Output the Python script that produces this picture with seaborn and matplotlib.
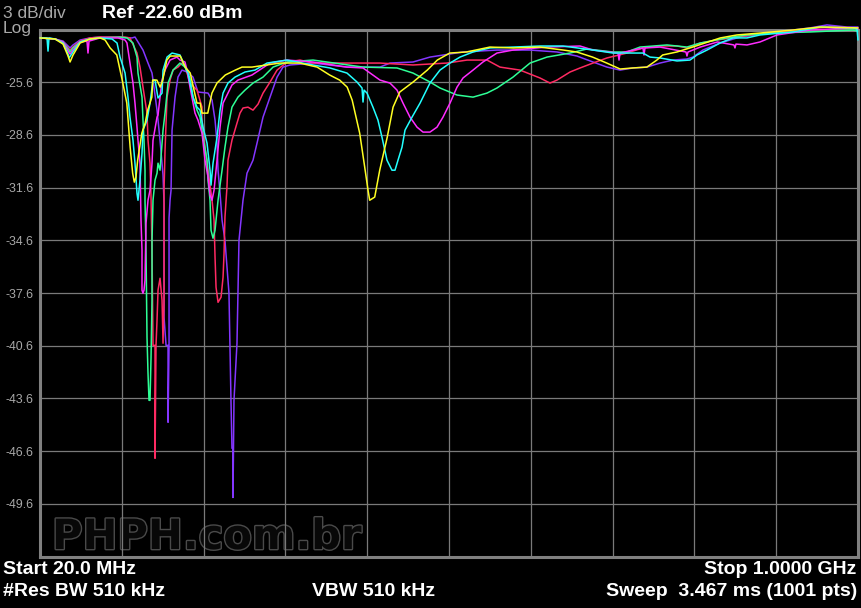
import pandas as pd
import matplotlib
matplotlib.use("Agg")
import matplotlib.pyplot as plt
import matplotlib.patheffects as pe
import seaborn as sns

# analyzer settings
start_mhz = 20.0
stop_mhz = 1000.0
ref_dbm = -22.6
db_per_div = 3.0

# traces (MHz, dBm)
yellow_mhz = [20, 38, 47.6, 53.6, 56, 59.6, 68, 80, 92, 98,
              104, 112, 119, 124, 128, 131, 133, 135, 137, 142,
              146, 149, 154, 155, 160, 164, 167, 172, 176, 188,
              194, 200, 208, 212, 214, 221, 226, 232, 242, 254,
              262, 274, 307.5, 331, 352, 367, 379, 388, 394, 403,
              409, 413, 415, 421, 427, 436, 443, 451, 467, 484,
              496, 511, 531, 559, 587, 619, 647, 663, 682, 699,
              715, 730, 747, 759, 766, 783, 802, 835, 855, 883,
              922, 954, 1000]
yellow_dbm = [-23.08, -23.14, -23.43, -24.11, -24.45, -24.05, -23.37, -23.14, -23.08, -23.2,
              -23.65, -24.05, -25.59, -26.79, -29.3, -30.78, -31.29, -31.0, -30.04, -28.5,
              -27.93, -27.19, -26.45, -25.48, -25.48, -25.88, -25.48, -24.34, -24.11, -24.11,
              -24.74, -25.08, -26.79, -26.79, -27.36, -27.36, -26.22, -25.65, -25.19, -24.91,
              -24.74, -24.74, -24.51, -24.51, -24.74, -25.19, -25.48, -25.88, -26.62, -28.5,
              -30.43, -31.75, -32.32, -32.14, -30.61, -28.73, -27.02, -26.16, -25.59, -24.91,
              -24.34, -23.94, -23.88, -23.6, -23.65, -23.6, -23.77, -23.88, -24.17, -24.51,
              -24.85, -24.79, -24.74, -24.34, -24.05, -23.88, -23.6, -23.08, -22.91, -22.8,
              -22.63, -22.46, -22.51]

cyan_mhz = [20, 28.4, 29.6, 30.8, 38, 47.6, 53.6, 54.8, 59.6, 68,
            80, 92, 106.3, 112.3, 115.9, 121.9, 125.4, 127.8, 131.4, 133.8,
            136.2, 137.4, 139.8, 142.2, 143.4, 148.2, 151.8, 155.4, 157.8, 161.4,
            166.2, 167.4, 172.2, 178.2, 187.7, 191.3, 197.3, 203.3, 208.1, 211.7,
            215.3, 220.1, 223.7, 224.9, 227.3, 232.1, 235.7, 239.3, 245.2, 253.6,
            265.6, 277.6, 292, 315.9, 347.1, 367.4, 387.8, 399.8, 405.8, 407,
            408.2, 411.8, 418.9, 424.9, 429.7, 435.7, 441.7, 445.3, 448.9, 453.7,
            457.3, 465.7, 475.3, 487.2, 499.2, 511.2, 523.2, 538.8, 559, 586.7,
            619, 646.6, 682.5, 706.5, 742.4, 750.8, 762.8, 783.1, 798.7, 807.1,
            819.1, 834.7, 850.2, 867, 882.6, 922, 954.5, 994, 998.8, 1000]
cyan_dbm = [-23.08, -23.08, -23.83, -23.08, -23.14, -23.37, -24.0, -24.22, -23.88, -23.31,
            -23.14, -23.08, -23.14, -23.37, -24.17, -25.08, -26.45, -27.59, -28.9, -30.21,
            -31.92, -32.32, -31.18, -29.64, -28.33, -27.76, -26.79, -25.48, -25.48, -26.5,
            -26.22, -24.91, -24.17, -23.94, -24.05, -24.45, -25.08, -26.45, -27.02, -27.19,
            -28.16, -29.07, -30.61, -31.46, -30.21, -28.73, -27.19, -26.22, -25.65, -25.31,
            -25.02, -24.91, -24.51, -24.34, -24.62, -24.79, -25.08, -25.59, -25.93, -26.73,
            -26.05, -26.22, -27.02, -27.76, -28.73, -30.04, -30.61, -30.61, -30.04, -29.3,
            -28.33, -27.59, -26.79, -25.65, -24.91, -24.51, -24.17, -23.88, -23.65, -23.6,
            -23.54, -23.54, -23.77, -23.94, -23.94, -24.17, -24.22, -24.39, -24.34, -24.05,
            -23.77, -23.37, -23.08, -23.08, -22.91, -22.74, -22.46, -22.51, -22.57, -23.2]

magenta_mhz = [20, 38, 47.6, 53.6, 56, 59.6, 68, 76.3, 77.5, 78.7,
               92, 113.5, 121.9, 124.2, 127.8, 131.4, 133.8, 136.2, 137.4, 139.8,
               141, 142.2, 142.2, 143.4, 144.6, 145.8, 147, 149.4, 151.8, 154.2,
               155.4, 160.2, 161.4, 163.8, 166.2, 169.8, 175.8, 184.1, 187.7, 193.7,
               196.1, 199.7, 205.7, 209.3, 214.1, 217.7, 221.3, 223.7, 226.1, 228.5,
               232.1, 235.7, 239.3, 245.2, 250, 257.2, 274, 295.6, 315.9, 347.1,
               387.8, 407, 427.3, 439.3, 447.7, 454.9, 463.3, 471.7, 478.9, 487.2,
               495.6, 502.8, 511.2, 519.6, 526.8, 538.8, 550.7, 567.5, 586.7, 627.4,
               667, 682.5, 712.5, 713.7, 714.9, 742.4, 743.6, 744.8, 762.8, 793.9,
               795.1, 796.3, 811.1, 831.5, 851.4, 852.6, 853.8, 867, 882.6, 903,
               942.5, 994, 1000]
magenta_dbm = [-23.08, -23.14, -23.31, -23.83, -24.0, -23.77, -23.31, -23.26, -23.94, -23.26,
               -23.08, -23.08, -23.2, -23.37, -24.51, -25.65, -26.79, -28.16, -28.9, -30.21,
               -33.45, -35.16, -37.44, -37.61, -37.44, -36.87, -33.63, -32.32, -31.75, -30.21,
               -28.9, -27.59, -27.47, -26.45, -25.48, -24.91, -24.34, -24.17, -24.34, -24.45,
               -24.91, -25.88, -27.36, -27.76, -28.5, -30.04, -31.0, -32.03, -32.32, -31.75,
               -30.04, -28.16, -26.79, -26.22, -25.76, -25.48, -25.19, -24.51, -24.34, -24.45,
               -24.74, -24.79, -25.48, -25.65, -26.05, -26.79, -27.59, -28.16, -28.44, -28.44,
               -28.16, -27.59, -26.79, -25.88, -25.36, -24.91, -24.45, -23.94, -23.77, -23.6,
               -23.54, -23.77, -23.94, -24.34, -23.94, -23.65, -24.05, -23.65, -23.6, -23.88,
               -24.11, -23.88, -23.6, -23.31, -23.48, -23.65, -23.43, -23.48, -23.31, -22.91,
               -22.63, -22.51, -22.57]

green_mhz = [20, 38, 47.6, 53.6, 56, 59.6, 68, 80, 92, 115.9,
             124.2, 131.4, 136.2, 137.4, 142.2, 143.4, 144.6, 145.8, 145.8, 147,
             148.2, 149.4, 150.6, 151.8, 153, 154.2, 154.2, 155.4, 157.8, 160.2,
             161.4, 163.8, 167.4, 169.8, 173.4, 179.4, 187.7, 193.7, 199.7, 203.3,
             208.1, 211.7, 215.3, 220.1, 221.3, 223.7, 224.9, 227.3, 229.7, 232.1,
             233.3, 238.1, 241.6, 245.2, 250, 257.2, 265.6, 275.2, 287.2, 299.2,
             315.9, 347.1, 407, 447.7, 466.9, 487.2, 499.2, 519.6, 538.8, 555.5,
             567.5, 586.7, 607.1, 627.4, 655, 675.3, 706.5, 723.2, 738.8, 771.2,
             795.1, 811.1, 843.1, 867, 898.2, 942.5, 994, 1000]
green_dbm = [-23.08, -23.14, -23.31, -23.71, -23.88, -23.65, -23.31, -23.14, -23.08, -23.03,
             -23.08, -23.37, -24.17, -25.08, -26.45, -27.76, -28.9, -30.61, -32.32, -35.16,
             -40.12, -42.17, -43.71, -43.71, -41.32, -38.01, -34.6, -32.32, -31.18, -30.78,
             -30.21, -30.61, -28.33, -27.36, -25.65, -24.91, -24.51, -24.74, -25.36, -26.45,
             -27.19, -27.59, -28.73, -30.04, -31.18, -32.32, -34.03, -34.48, -34.03, -32.88,
             -32.32, -30.61, -29.3, -28.16, -27.02, -26.45, -26.05, -25.65, -25.31, -24.74,
             -24.45, -24.34, -24.74, -24.79, -25.08, -25.59, -25.93, -26.33, -26.45, -26.22,
             -25.93, -25.31, -24.51, -24.17, -23.94, -23.71, -23.88, -23.88, -23.6, -23.48,
             -23.6, -23.37, -23.08, -22.91, -22.8, -22.74, -22.63, -22.69]

red_mhz = [20, 38, 47.6, 53.6, 56, 59.6, 68, 80, 92, 121.9,
           127.8, 136.2, 139.8, 143.4, 148.2, 149.4, 151.8, 153, 154.2, 155.4,
           157.8, 157.8, 159, 160.2, 161.4, 163.8, 166.2, 167.4, 168.6, 168.6,
           169.8, 172.2, 175.8, 179.4, 185.3, 190.1, 193.7, 199.7, 208.1, 214.1,
           214.1, 217.7, 221.3, 226.1, 228.5, 229.7, 230.9, 233.3, 236.9, 239.3,
           240.5, 241.6, 244, 245.2, 250, 256, 259.6, 263.2, 269.2, 275.2,
           281.2, 287.2, 295.6, 304, 315.9, 331.5, 347.1, 399.8, 427.3, 466.9,
           507.6, 531.6, 555.5, 571.1, 595, 619, 631, 639.4, 655, 667,
           682.5, 699.3, 723.2, 742.4, 762.8, 783.1, 795.1, 811.1, 831.1, 855,
           891, 930.5, 962.8, 1000]
red_dbm = [-23.08, -23.14, -23.31, -23.65, -23.77, -23.6, -23.26, -23.08, -23.03, -23.03,
           -23.08, -23.94, -24.74, -25.88, -27.36, -28.9, -30.21, -32.14, -35.16, -40.58,
           -40.58, -47.01, -40.58, -39.15, -37.44, -36.76, -38.01, -40.46, -38.01, -31.75,
           -29.47, -26.45, -25.48, -24.91, -24.74, -24.51, -24.68, -25.65, -26.05, -27.02,
           -27.76, -29.3, -30.61, -32.32, -33.45, -35.56, -37.27, -38.13, -37.84, -36.7,
           -35.34, -33.28, -31.57, -30.04, -28.9, -27.93, -27.36, -27.07, -27.02, -27.19,
           -26.85, -26.22, -25.59, -24.91, -24.45, -24.34, -24.51, -24.51, -24.51, -24.62,
           -24.51, -24.34, -24.34, -24.74, -24.91, -25.36, -25.65, -25.48, -25.02, -24.79,
           -24.51, -24.22, -23.94, -23.65, -23.54, -23.54, -23.65, -23.37, -23.2, -23.03,
           -22.8, -22.63, -22.46, -22.51]

violet_mhz = [20, 38, 47.6, 53.6, 56, 59.6, 68, 80, 92, 130.2,
              133.8, 143.4, 149.4, 154.2, 155.4, 157.8, 160.2, 163.8, 167.4, 168.6,
              168.6, 171, 173.4, 173.4, 174.6, 174.6, 175.8, 177, 178.2, 181.8,
              185.3, 190.1, 196.1, 203.3, 209.3, 221.3, 226.1, 229.7, 232.1, 233.3,
              235.7, 238.1, 241.6, 246.4, 248.8, 250, 251.2, 251.2, 252.4, 256,
              258.4, 263.2, 268, 275.2, 280, 287.2, 295.6, 304, 311.1, 319.5,
              347.1, 387.8, 427.3, 439.3, 466.9, 487.2, 526.8, 567.5, 607.1, 639.4,
              663.3, 682.5, 699.3, 714.9, 730.4, 747.2, 762.8, 778.4, 795.1, 802.3,
              814.2, 834.7, 858.6, 903, 942.5, 962.8, 986.8, 1000]
violet_dbm = [-23.08, -23.14, -23.26, -23.54, -23.65, -23.48, -23.2, -23.08, -23.03, -23.08,
              -23.03, -23.77, -24.51, -25.08, -25.48, -26.33, -27.19, -28.9, -30.89, -32.49,
              -38.98, -40.58, -40.58, -44.96, -40.58, -33.34, -32.32, -31.75, -28.33, -26.45,
              -25.31, -24.91, -25.02, -25.31, -26.16, -26.22, -26.62, -27.76, -29.07, -30.61,
              -31.92, -33.45, -34.6, -37.61, -43.71, -46.44, -46.44, -49.24, -43.71, -40.46,
              -34.6, -32.32, -30.78, -30.04, -29.07, -27.59, -26.45, -25.31, -24.74, -24.62,
              -24.51, -24.74, -24.74, -24.51, -24.45, -24.17, -23.88, -23.77, -23.77, -23.88,
              -24.11, -24.45, -24.74, -24.91, -24.79, -24.74, -24.51, -24.34, -24.28, -24.17,
              -23.77, -23.37, -23.03, -22.74, -22.51, -22.34, -22.46, -22.46]

traces = [
    ("violet", violet_mhz, violet_dbm, "#8436ff"),
    ("red", red_mhz, red_dbm, "#ff2a62"),
    ("green", green_mhz, green_dbm, "#2eff96"),
    ("magenta", magenta_mhz, magenta_dbm, "#ff2cff"),
    ("cyan", cyan_mhz, cyan_dbm, "#22ffff"),
    ("yellow", yellow_mhz, yellow_dbm, "#ffff22"),
]

W, H = 861, 608


def fx(px):
    return px / W


def fy(py):
    return 1 - py / H


def main():
    sns.set_theme(style="dark")
    plt.rcParams['font.family'] = ['Liberation Sans', 'DejaVu Sans']

    fig = plt.figure(figsize=(W / 100, H / 100), dpi=100, facecolor="black")
    ax = fig.add_axes([fx(40), fy(556.5), fx(818), 527 / H])
    ax.set_facecolor("black")

    for name, f, db, color in traces:
        df = pd.DataFrame({"MHz": f, "dBm": db})
        sns.lineplot(data=df, x="MHz", y="dBm", sort=False, estimator=None,
                     color=color, lw=1.1, ax=ax, clip_on=False, zorder=3)

    span = (stop_mhz - start_mhz) / 10
    xticks = [start_mhz + span * i for i in range(11)]
    yticks = [ref_dbm - db_per_div * i for i in range(11)]
    ax.set_xlim(start_mhz, stop_mhz)
    ax.set_ylim(yticks[-1], yticks[0])
    ax.set_xticks(xticks)
    ax.set_xticklabels([])
    ax.set_yticks(yticks)
    ax.set_yticklabels([""] + [f"{v:.1f}" for v in yticks[1:-1]] + [""])
    ax.tick_params(axis="both", length=0)
    ax.tick_params(axis="y", pad=4.5, labelsize=8.9, labelcolor="#a8a8a8")
    ax.set_xlabel("")
    ax.set_ylabel("")
    ax.set_axisbelow(True)
    ax.grid(True, color="#7a7a7a", lw=0.9)
    for s in ax.spines.values():
        s.set_visible(True)
        s.set_color("#808080")
        s.set_linewidth(2.2)

    # embossed watermark
    ax.text(fx(52), fy(549), "PHPH.com.br", transform=fig.transFigure,
            fontsize=30, fontweight="bold", family="DejaVu Sans",
            color="#080808", zorder=0.3,
            path_effects=[pe.withStroke(linewidth=2.0, foreground="#4a4a4a")])

    # header
    fig.text(fx(3), fy(13), "3 dB/div", color="#a8a8a8", fontsize=12.5, va="center")
    fig.text(fx(3), fy(29), "Log", color="#a8a8a8", fontsize=12.5, va="center")
    fig.text(fx(102), fy(14), "Ref -22.60 dBm", color="white", fontsize=14,
             fontweight="bold", va="center")

    # footer
    bold = dict(color="white", fontsize=14, fontweight="bold", va="center")
    fig.text(fx(3), fy(569), "Start 20.0 MHz", ha="left", **bold)
    fig.text(fx(3), fy(592), "#Res BW 510 kHz", ha="left", **bold)
    fig.text(fx(374), fy(592), "VBW 510 kHz", ha="center", **bold)
    fig.text(fx(856), fy(569), "Stop 1.0000 GHz", ha="right", **bold)
    fig.text(fx(857), fy(592), "Sweep  3.467 ms (1001 pts)", ha="right", **bold)

    fig.savefig("out.png", dpi=100, facecolor="black")
    plt.close(fig)


if __name__ == "__main__":
    main()
